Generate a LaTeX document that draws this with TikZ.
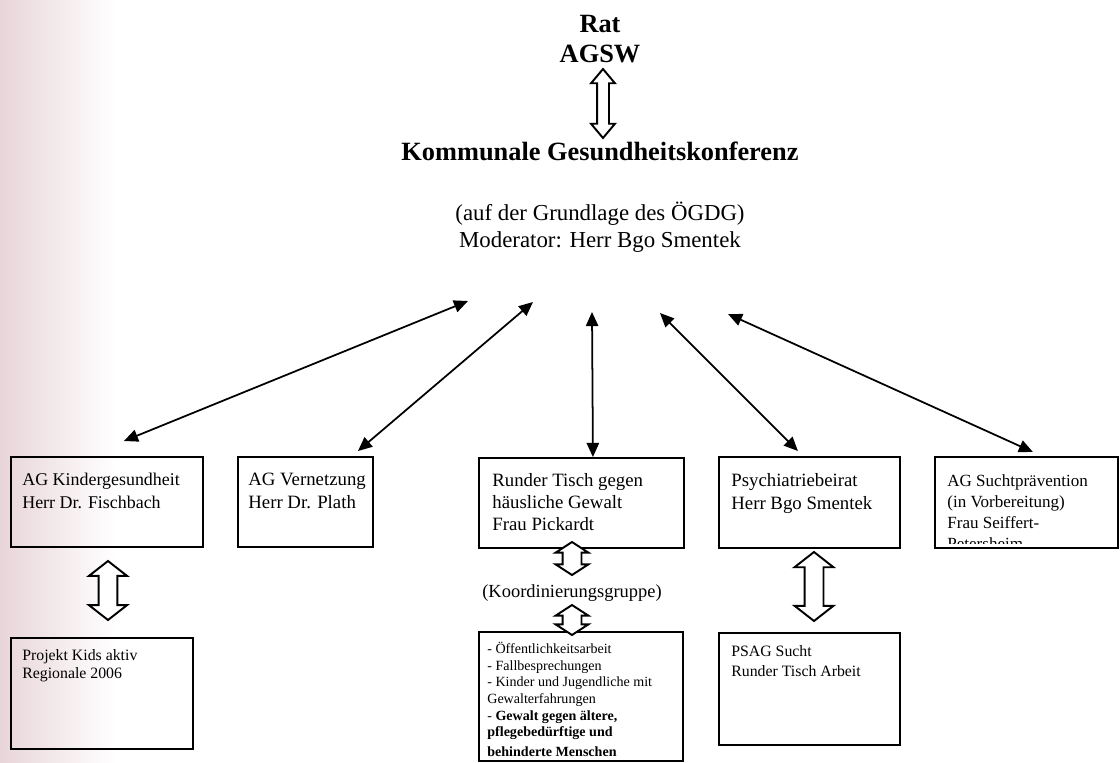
\documentclass[tikz,border=0pt]{standalone}
\usepackage{fontspec}
\setmainfont{Liberation Serif}
\usetikzlibrary{arrows.meta,shapes.arrows}
\definecolor{bgpink}{RGB}{232,213,217}

\begin{document}
\begin{tikzpicture}[x=0.02cm,y=-0.02cm,
  box/.style={draw,line width=1.1pt,anchor=north west,inner sep=0pt},
  txt/.style={anchor=north west,inner sep=0pt,align=left,font=\fontsize{10.7}{13}\selectfont},
  head/.style={anchor=base,inner sep=0pt,font=\fontsize{15}{17}\selectfont\bfseries},
  sub/.style={anchor=base,inner sep=0pt,font=\fontsize{13}{15}\selectfont},
  dbl/.style={line width=1pt,{Triangle[length=8pt,width=7pt]}-{Triangle[length=8pt,width=7pt]}},
  hollow/.style={draw,line width=1.1pt,fill=white,shape=double arrow,rotate=90,inner xsep=0pt,double arrow tip angle=104}]
  \useasboundingbox (0,0) rectangle (1120,762);
  \shade[left color=bgpink,right color=white] (0,0) rectangle (115,762);

  % top
  \node[head] (rat) at (600,32) {Rat};
  \node[head] (agsw) at (600,62) {AGSW};
  \node[head] (kgk) at (600,160) {Kommunale Gesundheitskonferenz};
  \node[sub] (grund) at (600,220) {(auf der Grundlage des ÖGDG)};
  \node[sub] (mod) at (600,247) {Moderator: Herr Bgo Smentek};
  \node[hollow,minimum height=1.38cm,inner ysep=.1cm,double arrow head extend=.12cm,double arrow tip angle=80] (h0) at (603,103.5) {};

  % boxes
  \node[box,minimum width=3.84cm,minimum height=1.8cm] (kg) at (10,456) {};
  \node[box,minimum width=2.7cm,minimum height=1.8cm] (vn) at (237,456) {};
  \node[box,minimum width=4.1cm,minimum height=1.8cm] (rt) at (478,457) {};
  \node[box,minimum width=3.62cm,minimum height=1.82cm] (pb) at (718,456) {};
  \node[box,minimum width=3.66cm,minimum height=1.82cm] (sp) at (934,456) {};
  \node[box,minimum width=3.64cm,minimum height=2.22cm] (kids) at (10,637) {};
  \node[box,minimum width=4.08cm,minimum height=2.58cm] (ag) at (478,631) {};
  \node[box,minimum width=3.62cm,minimum height=2.24cm] (psag) at (718,632) {};

  \node[txt,font=\fontsize{10.2}{13}\selectfont] (kgt) at (22,473) {AG Kindergesundheit\\Herr Dr. Fischbach};
  \node[txt] (vnt) at (248,473) {AG Vernetzung\\Herr Dr. Plath};
  \node[txt,font=\fontsize{10.7}{12.5}\selectfont] (rtt) at (492,473) {Runder Tisch gegen\\häusliche Gewalt\\Frau Pickardt};
  \node[txt] (pbt) at (731,473) {Psychiatriebeirat\\Herr Bgo Smentek};
  \begin{scope}
    \clip (934,456) rectangle (1117,543);
    \node[txt,font=\fontsize{9.7}{12.1}\selectfont] (spt) at (947,474) {AG Suchtprävention\\(in Vorbereitung)\\Frau Seiffert-\\Petersheim};
  \end{scope}
  \node[txt,font=\fontsize{9}{10.4}\selectfont] (kidst) at (22,649) {Projekt Kids aktiv\\Regionale 2006};
  \node[txt,font=\fontsize{9}{11.4}\selectfont] (psagt) at (731,645) {PSAG Sucht\\Runder Tisch Arbeit};
  \node[txt,font=\fontsize{8}{9.45}\selectfont] (agt) at (487,642) {- Öffentlichkeitsarbeit\\- Fallbesprechungen\\- Kinder und Jugendliche mit\\Gewalterfahrungen\\- \textbf{Gewalt gegen ältere,}\\\textbf{pflegebedürftige und}\\[2pt]\textbf{behinderte Menschen}};
  \node[font=\fontsize{10.5}{12}\selectfont,inner sep=0pt] (koord) at (572,593) {(Koordinierungsgruppe)};

  % hollow arrows
  \node[hollow,minimum height=1.18cm,inner ysep=.17cm,double arrow head extend=.19cm] (h1) at (108,590.5) {};
  \node[hollow,minimum height=.66cm,inner ysep=.17cm,double arrow head extend=.14cm,double arrow tip angle=114] (h2) at (572,558.5) {};
  \node[hollow,minimum height=.6cm,inner ysep=.17cm,double arrow head extend=.14cm,double arrow tip angle=114] (h3) at (572,620) {};
  \node[hollow,minimum height=1.38cm,inner ysep=.17cm,double arrow head extend=.2cm] (h4) at (814,586.5) {};

  % arrows to the conference
  \coordinate (t1) at (468,301);
  \coordinate (t2) at (533,302);
  \coordinate (t3) at (592,312);
  \coordinate (t4) at (660,313);
  \coordinate (t5) at (728,314);
  \draw[dbl] (t1) -- ([shift={(17,-15)}]kg.north);
  \draw[dbl] (t2) -- ([shift={(52.5,-5)}]vn.north);
  \draw[dbl] (t3) -- ([shift={(11.5,0)}]rt.north);
  \draw[dbl] (t4) -- ([shift={(-11.5,-5)}]pb.north);
  \draw[dbl] (t5) -- ([shift={(6.5,-4)}]sp.north);
\end{tikzpicture}
\end{document}
